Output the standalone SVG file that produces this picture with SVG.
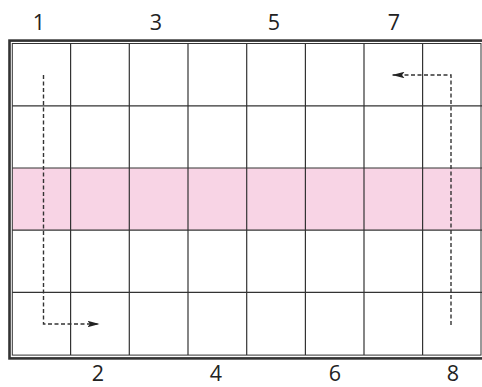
<svg xmlns="http://www.w3.org/2000/svg" width="482" height="387" viewBox="0 0 482 387">
<defs>
<style>
.grid{stroke:#333;stroke-width:1.2;fill:none}
.lbl{font-family:"Open Sans","Liberation Sans",Arial,sans-serif;font-size:21.5px;fill:#222;text-anchor:middle}
.dash{stroke:#333;stroke-width:1.4;fill:none;stroke-dasharray:4 2.5}
</style>
<marker id="ah" viewBox="0 0 10 10" refX="10" refY="5" markerWidth="12" markerHeight="6.5" markerUnits="userSpaceOnUse" orient="auto" preserveAspectRatio="none">
<path d="M0,0 L10,5 L0,10 L2,5 Z" fill="#222"/>
</marker>
</defs>
<rect width="482" height="387" fill="#fff"/>
<g id="band">
<rect x="12.5" y="168" width="469" height="62" fill="#f8d4e5"/>
</g>
<g id="grid" class="grid">
<line x1="70.6" y1="43.5" x2="70.6" y2="355"/>
<line x1="129.3" y1="43.5" x2="129.3" y2="355"/>
<line x1="188" y1="43.5" x2="188" y2="355"/>
<line x1="246.7" y1="43.5" x2="246.7" y2="355"/>
<line x1="305.4" y1="43.5" x2="305.4" y2="355"/>
<line x1="364" y1="43.5" x2="364" y2="355"/>
<line x1="422.6" y1="43.5" x2="422.6" y2="355"/>
<line x1="12.2" y1="105.8" x2="482" y2="105.8"/>
<line x1="12.2" y1="168" x2="482" y2="168"/>
<line x1="12.2" y1="230.2" x2="482" y2="230.2"/>
<line x1="12.2" y1="292.4" x2="482" y2="292.4"/>
</g>
<g id="border">
<rect x="9.5" y="40.6" width="476" height="317.8" fill="none" stroke="#333" stroke-width="2.6"/>
<rect x="12.3" y="43.5" width="468.7" height="311.6" fill="none" stroke="#333" stroke-width="1"/>
</g>
<g id="labels">
<text class="lbl" x="39" y="30">1</text>
<text class="lbl" x="156" y="30">3</text>
<text class="lbl" x="274" y="30">5</text>
<text class="lbl" x="394" y="30">7</text>
<text class="lbl" x="98" y="381">2</text>
<text class="lbl" x="216" y="381">4</text>
<text class="lbl" x="335" y="381">6</text>
<text class="lbl" x="453" y="381">8</text>
</g>
<g id="connectors">
<path class="dash" d="M43.5,75 V324 H99.5" marker-end="url(#ah)"/>
<path class="dash" d="M451,325 V75 H392.5" marker-end="url(#ah)"/>
</g>
</svg>
